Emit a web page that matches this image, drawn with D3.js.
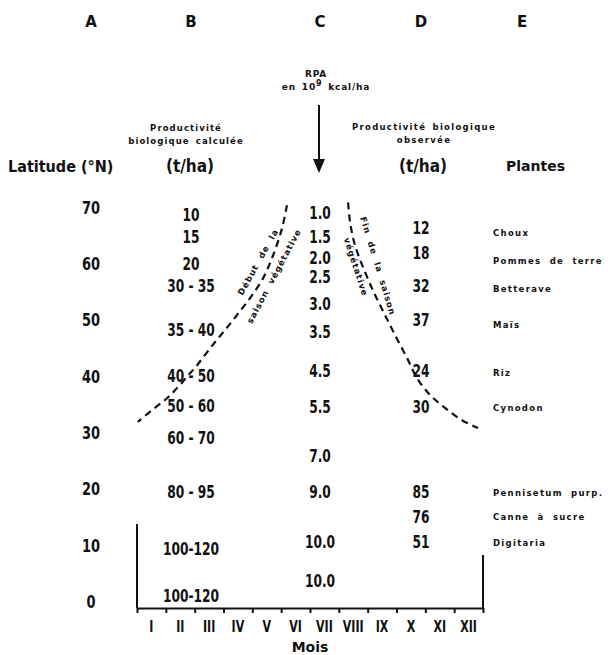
<!DOCTYPE html>
<html><head><meta charset="utf-8">
<script src="https://cdn.jsdelivr.net/npm/d3@7"></script>
<style>
html,body{margin:0;padding:0;background:#fff;}
svg{display:block;}
.num{font-family:"DejaVu Sans Condensed","DejaVu Sans",sans-serif;font-weight:bold;fill:#111;}
.small{font-family:"DejaVu Sans",sans-serif;font-weight:bold;fill:#111;}
</style></head>
<body>
<svg id="c" width="608" height="655"></svg>
<script>
// ---- data ----
const columns = ["A","B","C","D","E"];
const months = ["I","II","III","IV","V","VI","VII","VIII","IX","X","XI","XII"];
const latTicks = [0,10,20,30,40,50,60,70];
const calcLabels = ["10","15","20","30 - 35","35 - 40","40 - 50","50 - 60","60 - 70","80 - 95","100-120","100-120"];
const calcLat = [68.7,64.7,59.9,56.0,48.3,40.0,34.8,29.0,19.5,9.4,0.9];
const rpaLabels = ["1.0","1.5","2.0","2.5","3.0","3.5","4.5","5.5","7.0","9.0","10.0","10.0"];
const rpaLat = [69.1,64.8,61.1,57.6,52.8,47.8,40.9,34.5,25.9,19.5,10.5,3.7];
const obsValues = [12,18,32,37,24,30,85,76,51];
const obsLat = [66.4,62.0,56.0,50.1,40.9,34.5,19.5,15.1,10.5];
const plants = ["Choux","Pommes de terre","Betterave","Maïs","Riz","Cynodon","Pennisetum purp.","Canne à sucre","Digitaria"];
const plantLat = [65.5,60.6,55.6,49.2,40.7,34.5,19.4,15.1,10.5];
const debutMonth = [5.20,5.03,4.72,4.37,3.92,3.47,3.05,2.71,2.36,2.01,1.73,1.39,1.04,0.62,0.03];
const debutLat   = [70.5,66.4,61.6,57.5,54.0,51.0,48.3,46.2,43.9,41.6,40.0,38.0,36.2,34.5,32.0];
const finMonth = [7.32,7.39,7.56,7.91,8.26,8.60,8.95,9.37,9.71,10.16,10.68,11.27,11.83];
const finLat   = [71.0,67.5,63.4,58.6,54.5,51.0,47.4,43.3,39.8,36.8,34.5,32.3,30.9];

// ---- layout ----
const svg = d3.select("#c");
const y = d3.scaleLinear().domain([0,70]).range([602,208]);
const x = d3.scaleLinear().domain([0,12]).range([137,483]);
const colX = {A:91,B:191,C:320,D:421,E:522};
const axisY = 608;
const NS = 0.8; // horizontal squeeze for the condensed numerals

// column letters
svg.selectAll(".col").data(columns).join("text")
  .attr("class","small").attr("x",d=>colX[d]).attr("y",22)
  .attr("text-anchor","middle").attr("dominant-baseline","central")
  .attr("font-size",15).text(d=>d);

function t(txt,xx,yy,size,cls,anchor){
  return svg.append("text").attr("class",cls).attr("x",xx).attr("y",yy)
   .attr("font-size",size).attr("text-anchor",anchor||"middle")
   .attr("dominant-baseline","central").text(txt);
}
// squeezed numeric column
function numCol(labels, xx, yFn, size, sq){
  svg.append("g").selectAll("text").data(labels).join("text").attr("class","num")
    .attr("transform",(d,i)=>`translate(${typeof xx==="function"?xx(d,i):xx},${yFn(d,i)}) scale(${sq},1)`)
    .attr("text-anchor","middle").attr("dominant-baseline","central")
    .attr("font-size",size).text(d=>d);
}

t("RPA",316,74,9,"small").attr("letter-spacing",0.8);
const en = t("",326,87,9,"small").attr("letter-spacing",0.8).attr("word-spacing",2);
en.append("tspan").text("en 10");
en.append("tspan").attr("dy",-4).attr("font-size",8).text("9");
en.append("tspan").attr("dy",4).text(" kcal/ha");
t("Productivité",186,128,8.5,"small").attr("letter-spacing",1.1);
t("biologique  calculée",186,141,8.5,"small").attr("letter-spacing",1.1).attr("word-spacing",2);
t("Productivité  biologique",424,127,8.5,"small").attr("letter-spacing",1.3).attr("word-spacing",2);
t("observée",424,140,8.5,"small").attr("letter-spacing",1.3);
t("Latitude (°N)",8,166,16,"num","start");
t("(t/ha)",190,166,17,"num");
t("(t/ha)",423,166,17,"num");
t("Plantes",506,166,14,"small","start");

// arrow
svg.append("line").attr("x1",319).attr("x2",319).attr("y1",105).attr("y2",160)
  .attr("stroke","#111").attr("stroke-width",2);
svg.append("path").attr("d","M313,159 L325,159 L319,173 Z").attr("fill","#111");

// columns of values
numCol(latTicks, colX.A, d=>y(d), 17, 0.85);
numCol(calcLabels, colX.B, (d,i)=>y(calcLat[i]), 17, NS);
numCol(rpaLabels, colX.C, (d,i)=>y(rpaLat[i]), 17, NS);
numCol(obsValues, colX.D, (d,i)=>y(obsLat[i]), 17, NS);

// plants
svg.selectAll(".pl").data(plants).join("text").attr("class","small")
  .attr("x",493).attr("y",(d,i)=>y(plantLat[i])).attr("text-anchor","start")
  .attr("dominant-baseline","central").attr("font-size",8.5)
  .attr("letter-spacing",1.3).attr("word-spacing",4).text(d=>d);

// season curves
const line = d3.line().x(d=>x(d[0])).y(d=>y(d[1])).curve(d3.curveCatmullRom);
svg.append("path").datum(debutMonth.map((m,i)=>[m,debutLat[i]])).attr("d",line)
  .attr("fill","none").attr("stroke","#111").attr("stroke-width",2.2).attr("stroke-dasharray","7,5");
svg.append("path").datum(finMonth.map((m,i)=>[m,finLat[i]])).attr("d",line)
  .attr("fill","none").attr("stroke","#111").attr("stroke-width",2.2).attr("stroke-dasharray","7,5");

// curve annotations
function rt(txt,cx,cy,ang){
  svg.append("text").attr("class","small").attr("font-size",8.5)
    .attr("letter-spacing",1).attr("word-spacing",4)
    .attr("text-anchor","middle").attr("dominant-baseline","central")
    .attr("transform",`translate(${cx},${cy}) rotate(${ang})`).text(txt);
}
rt("Début de la",258,262,-61);
rt("saison végétative",274,276,-62);
rt("Fin de la saison",378,266,73);
rt("végétative",356,267,72);

// month axis
const ax = svg.append("g").attr("transform",`translate(0,${axisY})`)
  .call(d3.axisBottom(x).tickValues(d3.range(13)).tickSize(5).tickSizeOuter(0).tickFormat(""));
ax.select(".domain").attr("stroke","#111").attr("stroke-width",2);
ax.selectAll(".tick line").attr("stroke","#111").attr("stroke-width",2);
svg.append("line").attr("x1",x(0)).attr("x2",x(0)).attr("y1",524).attr("y2",axisY)
  .attr("stroke","#111").attr("stroke-width",2);
svg.append("line").attr("x1",x(12)).attr("x2",x(12)).attr("y1",555).attr("y2",axisY)
  .attr("stroke","#111").attr("stroke-width",2);
numCol(months, (d,i)=>x(i+0.5), ()=>627, 15, 0.82);
t("Mois",x(6),647,14,"small");
</script>
</body></html>
